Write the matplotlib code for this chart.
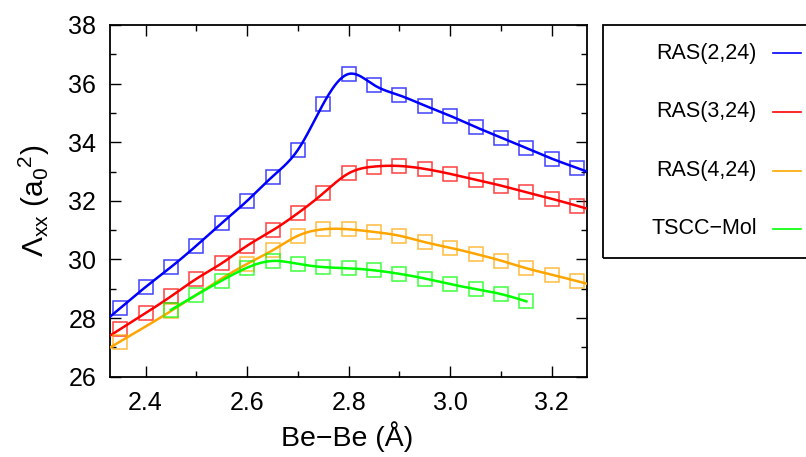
import numpy as np
import matplotlib.pyplot as plt
from matplotlib.lines import Line2D
from matplotlib.patches import Rectangle
from matplotlib.ticker import MultipleLocator

plt.rcParams['font.family'] = ['Liberation Sans', 'DejaVu Sans']
plt.rcParams['mathtext.fontset'] = 'custom'
plt.rcParams['mathtext.rm'] = 'Liberation Sans'
plt.rcParams['mathtext.it'] = 'Liberation Sans:italic'

# Be-Be distance (Angstrom) and polarizability values
x_ras2 = [2.35, 2.40, 2.45, 2.50, 2.55, 2.60, 2.65, 2.70, 2.75, 2.80,
          2.85, 2.90, 2.95, 3.00, 3.05, 3.10, 3.15, 3.20, 3.25]
ras2 = [28.34, 29.06, 29.74, 30.47, 31.24, 32.00, 32.83, 33.74, 35.31, 36.33,
        35.95, 35.60, 35.25, 34.90, 34.52, 34.16, 33.80, 33.44, 33.12]

x_ras3 = x_ras2
ras3 = [27.62, 28.17, 28.74, 29.34, 29.87, 30.47, 30.99, 31.58, 32.26, 32.94,
        33.17, 33.19, 33.09, 32.92, 32.72, 32.52, 32.29, 32.07, 31.83]

x_ras4 = [2.35, 2.45, 2.60, 2.65, 2.70, 2.75, 2.80, 2.85, 2.90, 2.95,
          3.00, 3.05, 3.10, 3.15, 3.20, 3.25]
ras4 = [27.20, 28.24, 29.85, 30.31, 30.81, 31.03, 31.03, 30.94, 30.81, 30.59,
        30.40, 30.19, 29.96, 29.70, 29.48, 29.26]

x_tscc = [2.45, 2.50, 2.55, 2.60, 2.65, 2.70, 2.75, 2.80, 2.85, 2.90,
          2.95, 3.00, 3.05, 3.10, 3.15]
tscc = [28.28, 28.79, 29.28, 29.72, 29.95, 29.85, 29.74, 29.70, 29.63, 29.51,
        29.35, 29.16, 28.99, 28.82, 28.57]

labels = ['RAS(2,24)', 'RAS(3,24)', 'RAS(4,24)', 'TSCC\u2212Mol']
colors = ['#0000ff', '#ff0000', '#ffa500', '#00ff00']


def natural_spline(x, y, xs):
    # natural cubic spline, end cubics used past the data range
    x = np.asarray(x, float)
    y = np.asarray(y, float)
    n = len(x)
    h = np.diff(x)
    A = np.zeros((n, n))
    b = np.zeros(n)
    A[0, 0] = A[-1, -1] = 1.0
    for i in range(1, n - 1):
        A[i, i - 1] = h[i - 1]
        A[i, i] = 2 * (h[i - 1] + h[i])
        A[i, i + 1] = h[i]
        b[i] = 6 * ((y[i + 1] - y[i]) / h[i] - (y[i] - y[i - 1]) / h[i - 1])
    m = np.linalg.solve(A, b)
    idx = np.clip(np.searchsorted(x, xs) - 1, 0, n - 2)
    x0, x1 = x[idx], x[idx + 1]
    hh = x1 - x0
    t0 = x1 - xs
    t1 = xs - x0
    return (m[idx] * t0**3 / (6 * hh) + m[idx + 1] * t1**3 / (6 * hh)
            + (y[idx] / hh - m[idx] * hh / 6) * t0
            + (y[idx + 1] / hh - m[idx + 1] * hh / 6) * t1)


fig = plt.figure(figsize=(8.06, 4.57), dpi=100)
ax = fig.add_axes([0.1365, 0.1757, 0.5922, 0.7696])

xmin, xmax = 2.33, 3.27
series = [(x_ras2, ras2, True), (x_ras3, ras3, True),
          (x_ras4, ras4, True), (x_tscc, tscc, False)]
for (xs, ys, extend), c in zip(series, colors):
    lo, hi = (xmin, xmax) if extend else (xs[0], xs[-1])
    xx = np.linspace(lo, hi, 400)
    rgba = plt.matplotlib.colors.to_rgba(c, 0.75)
    ax.plot(xs, ys, 's', mfc='none', mec=rgba, ms=10.5, mew=1.1, zorder=3)
    ax.plot(xx, natural_spline(xs, ys, xx), color=c, lw=1.8, zorder=3)

ax.set_xlim(xmin, xmax)
ax.set_ylim(26, 38)
ax.xaxis.set_major_locator(MultipleLocator(0.2))
ax.xaxis.set_minor_locator(MultipleLocator(0.1))
ax.yaxis.set_major_locator(MultipleLocator(2))
ax.yaxis.set_minor_locator(MultipleLocator(1))
ax.xaxis.set_major_formatter(plt.FormatStrFormatter('%.1f'))
ax.tick_params(which='both', direction='in', top=True, right=True,
               width=1.0, labelsize=18, pad=10)
ax.tick_params(which='major', length=8)
ax.tick_params(which='minor', length=4)
for s in ax.spines.values():
    s.set_linewidth(1.3)

ax.set_xlabel('Be\u2212Be (\u00c5)', fontsize=20.5)
ax.xaxis.set_label_coords(0.497, -0.127)
ax.set_ylabel(r'$\Lambda_{\mathrm{xx}}$ (a$_0$$^2$)', fontsize=21.5)
ax.yaxis.set_label_coords(-0.122, 0.5)

# key box on the right, running off the edge
W, H = 806, 457
fig.patches.append(Rectangle((602.7 / W, 1 - 258.3 / H), 0.4, (258.3 - 25) / H,
                             transform=fig.transFigure, fill=False,
                             edgecolor='black', lw=1.3))
rows = [53.3, 111.7, 170.7, 228.7]
for lab, c, ry in zip(labels, colors, rows):
    fy = 1 - ry / H
    fig.text(756.7 / W, fy, lab, ha='right', va='center', fontsize=15.5)
    fig.lines.append(Line2D([773 / W, 801 / W], [fy, fy], color=c, lw=1.2,
                            transform=fig.transFigure))

fig.savefig('out.png', dpi=100)
